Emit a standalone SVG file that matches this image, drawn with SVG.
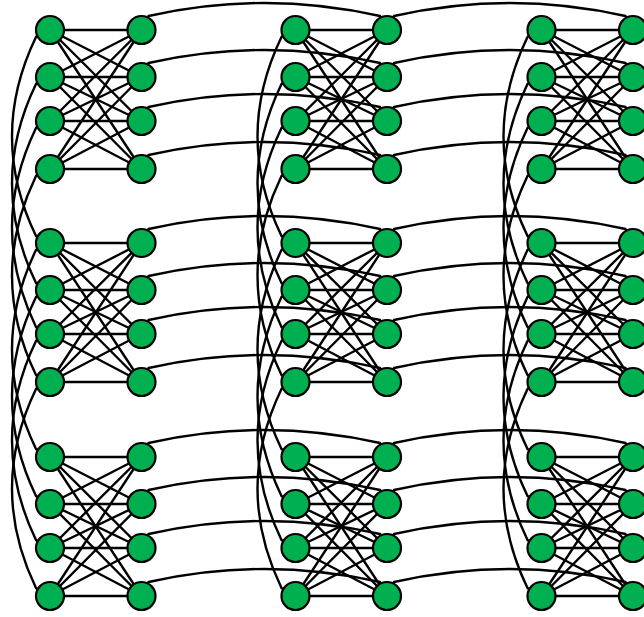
<svg xmlns="http://www.w3.org/2000/svg" xmlns:xlink="http://www.w3.org/1999/xlink" width="644" height="617" viewBox="0 0 644 617">
<style>
.e{stroke:#000;stroke-width:2.4;fill:none}
.n{fill:#00B050;stroke:#000;stroke-width:2.2}
</style>
<defs>
<g id="k44" class="e">
<path d="M50,30L141.5,30M50,30L141.5,77M50,30L141.5,121M50,30L141.5,169"/>
<path d="M50,77L141.5,30M50,77L141.5,77M50,77L141.5,121M50,77L141.5,169"/>
<path d="M50,121L141.5,30M50,121L141.5,77M50,121L141.5,121M50,121L141.5,169"/>
<path d="M50,169L141.5,30M50,169L141.5,77M50,169L141.5,121M50,169L141.5,169"/>
</g>
<path id="hc" class="e" d="M141.5,0L148.5,-14Q264.25,-40 380,-14L387,0"/>
<path id="vc" class="e" d="M50,30L36,37Q-12,136.5 36,236L50,243"/>
</defs>
<g id="connectors">
<use xlink:href="#k44"/>
<use xlink:href="#k44" transform="translate(245.5,0)"/>
<use xlink:href="#k44" transform="translate(491.5,0)"/>
<use xlink:href="#k44" transform="translate(0,213)"/>
<use xlink:href="#k44" transform="translate(245.5,213)"/>
<use xlink:href="#k44" transform="translate(491.5,213)"/>
<use xlink:href="#k44" transform="translate(0,427)"/>
<use xlink:href="#k44" transform="translate(245.5,427)"/>
<use xlink:href="#k44" transform="translate(491.5,427)"/>
<use xlink:href="#hc" transform="translate(0,30)"/><use xlink:href="#hc" transform="translate(245.5,30)"/>
<use xlink:href="#hc" transform="translate(0,77)"/><use xlink:href="#hc" transform="translate(245.5,77)"/>
<use xlink:href="#hc" transform="translate(0,121)"/><use xlink:href="#hc" transform="translate(245.5,121)"/>
<use xlink:href="#hc" transform="translate(0,169)"/><use xlink:href="#hc" transform="translate(245.5,169)"/>
<use xlink:href="#hc" transform="translate(0,243)"/><use xlink:href="#hc" transform="translate(245.5,243)"/>
<use xlink:href="#hc" transform="translate(0,290)"/><use xlink:href="#hc" transform="translate(245.5,290)"/>
<use xlink:href="#hc" transform="translate(0,334)"/><use xlink:href="#hc" transform="translate(245.5,334)"/>
<use xlink:href="#hc" transform="translate(0,382)"/><use xlink:href="#hc" transform="translate(245.5,382)"/>
<use xlink:href="#hc" transform="translate(0,457)"/><use xlink:href="#hc" transform="translate(245.5,457)"/>
<use xlink:href="#hc" transform="translate(0,504)"/><use xlink:href="#hc" transform="translate(245.5,504)"/>
<use xlink:href="#hc" transform="translate(0,548)"/><use xlink:href="#hc" transform="translate(245.5,548)"/>
<use xlink:href="#hc" transform="translate(0,596)"/><use xlink:href="#hc" transform="translate(245.5,596)"/>
<use xlink:href="#vc"/><use xlink:href="#vc" transform="translate(0,47)"/><use xlink:href="#vc" transform="translate(0,91)"/><use xlink:href="#vc" transform="translate(0,139)"/>
<use xlink:href="#vc" transform="translate(0,213)"/><use xlink:href="#vc" transform="translate(0,260)"/><use xlink:href="#vc" transform="translate(0,304)"/><use xlink:href="#vc" transform="translate(0,352)"/>
<use xlink:href="#vc" transform="translate(245.5,0)"/><use xlink:href="#vc" transform="translate(245.5,47)"/><use xlink:href="#vc" transform="translate(245.5,91)"/><use xlink:href="#vc" transform="translate(245.5,139)"/>
<use xlink:href="#vc" transform="translate(245.5,213)"/><use xlink:href="#vc" transform="translate(245.5,260)"/><use xlink:href="#vc" transform="translate(245.5,304)"/><use xlink:href="#vc" transform="translate(245.5,352)"/>
<use xlink:href="#vc" transform="translate(491.5,0)"/><use xlink:href="#vc" transform="translate(491.5,47)"/><use xlink:href="#vc" transform="translate(491.5,91)"/><use xlink:href="#vc" transform="translate(491.5,139)"/>
<use xlink:href="#vc" transform="translate(491.5,213)"/><use xlink:href="#vc" transform="translate(491.5,260)"/><use xlink:href="#vc" transform="translate(491.5,304)"/><use xlink:href="#vc" transform="translate(491.5,352)"/>
</g>
<g id="nodes">
<g id="c00L0"><circle class="n" cx="50" cy="30" r="14"/></g>
<g id="c00L1"><circle class="n" cx="50" cy="77" r="14"/></g>
<g id="c00L2"><circle class="n" cx="50" cy="121" r="14"/></g>
<g id="c00L3"><circle class="n" cx="50" cy="169" r="14"/></g>
<g id="c00R0"><circle class="n" cx="141.5" cy="30" r="14"/></g>
<g id="c00R1"><circle class="n" cx="141.5" cy="77" r="14"/></g>
<g id="c00R2"><circle class="n" cx="141.5" cy="121" r="14"/></g>
<g id="c00R3"><circle class="n" cx="141.5" cy="169" r="14"/></g>
<g id="c01L0"><circle class="n" cx="295.5" cy="30" r="14"/></g>
<g id="c01L1"><circle class="n" cx="295.5" cy="77" r="14"/></g>
<g id="c01L2"><circle class="n" cx="295.5" cy="121" r="14"/></g>
<g id="c01L3"><circle class="n" cx="295.5" cy="169" r="14"/></g>
<g id="c01R0"><circle class="n" cx="387" cy="30" r="14"/></g>
<g id="c01R1"><circle class="n" cx="387" cy="77" r="14"/></g>
<g id="c01R2"><circle class="n" cx="387" cy="121" r="14"/></g>
<g id="c01R3"><circle class="n" cx="387" cy="169" r="14"/></g>
<g id="c02L0"><circle class="n" cx="541.5" cy="30" r="14"/></g>
<g id="c02L1"><circle class="n" cx="541.5" cy="77" r="14"/></g>
<g id="c02L2"><circle class="n" cx="541.5" cy="121" r="14"/></g>
<g id="c02L3"><circle class="n" cx="541.5" cy="169" r="14"/></g>
<g id="c02R0"><circle class="n" cx="633" cy="30" r="14"/></g>
<g id="c02R1"><circle class="n" cx="633" cy="77" r="14"/></g>
<g id="c02R2"><circle class="n" cx="633" cy="121" r="14"/></g>
<g id="c02R3"><circle class="n" cx="633" cy="169" r="14"/></g>
<g id="c10L0"><circle class="n" cx="50" cy="243" r="14"/></g>
<g id="c10L1"><circle class="n" cx="50" cy="290" r="14"/></g>
<g id="c10L2"><circle class="n" cx="50" cy="334" r="14"/></g>
<g id="c10L3"><circle class="n" cx="50" cy="382" r="14"/></g>
<g id="c10R0"><circle class="n" cx="141.5" cy="243" r="14"/></g>
<g id="c10R1"><circle class="n" cx="141.5" cy="290" r="14"/></g>
<g id="c10R2"><circle class="n" cx="141.5" cy="334" r="14"/></g>
<g id="c10R3"><circle class="n" cx="141.5" cy="382" r="14"/></g>
<g id="c11L0"><circle class="n" cx="295.5" cy="243" r="14"/></g>
<g id="c11L1"><circle class="n" cx="295.5" cy="290" r="14"/></g>
<g id="c11L2"><circle class="n" cx="295.5" cy="334" r="14"/></g>
<g id="c11L3"><circle class="n" cx="295.5" cy="382" r="14"/></g>
<g id="c11R0"><circle class="n" cx="387" cy="243" r="14"/></g>
<g id="c11R1"><circle class="n" cx="387" cy="290" r="14"/></g>
<g id="c11R2"><circle class="n" cx="387" cy="334" r="14"/></g>
<g id="c11R3"><circle class="n" cx="387" cy="382" r="14"/></g>
<g id="c12L0"><circle class="n" cx="541.5" cy="243" r="14"/></g>
<g id="c12L1"><circle class="n" cx="541.5" cy="290" r="14"/></g>
<g id="c12L2"><circle class="n" cx="541.5" cy="334" r="14"/></g>
<g id="c12L3"><circle class="n" cx="541.5" cy="382" r="14"/></g>
<g id="c12R0"><circle class="n" cx="633" cy="243" r="14"/></g>
<g id="c12R1"><circle class="n" cx="633" cy="290" r="14"/></g>
<g id="c12R2"><circle class="n" cx="633" cy="334" r="14"/></g>
<g id="c12R3"><circle class="n" cx="633" cy="382" r="14"/></g>
<g id="c20L0"><circle class="n" cx="50" cy="457" r="14"/></g>
<g id="c20L1"><circle class="n" cx="50" cy="504" r="14"/></g>
<g id="c20L2"><circle class="n" cx="50" cy="548" r="14"/></g>
<g id="c20L3"><circle class="n" cx="50" cy="596" r="14"/></g>
<g id="c20R0"><circle class="n" cx="141.5" cy="457" r="14"/></g>
<g id="c20R1"><circle class="n" cx="141.5" cy="504" r="14"/></g>
<g id="c20R2"><circle class="n" cx="141.5" cy="548" r="14"/></g>
<g id="c20R3"><circle class="n" cx="141.5" cy="596" r="14"/></g>
<g id="c21L0"><circle class="n" cx="295.5" cy="457" r="14"/></g>
<g id="c21L1"><circle class="n" cx="295.5" cy="504" r="14"/></g>
<g id="c21L2"><circle class="n" cx="295.5" cy="548" r="14"/></g>
<g id="c21L3"><circle class="n" cx="295.5" cy="596" r="14"/></g>
<g id="c21R0"><circle class="n" cx="387" cy="457" r="14"/></g>
<g id="c21R1"><circle class="n" cx="387" cy="504" r="14"/></g>
<g id="c21R2"><circle class="n" cx="387" cy="548" r="14"/></g>
<g id="c21R3"><circle class="n" cx="387" cy="596" r="14"/></g>
<g id="c22L0"><circle class="n" cx="541.5" cy="457" r="14"/></g>
<g id="c22L1"><circle class="n" cx="541.5" cy="504" r="14"/></g>
<g id="c22L2"><circle class="n" cx="541.5" cy="548" r="14"/></g>
<g id="c22L3"><circle class="n" cx="541.5" cy="596" r="14"/></g>
<g id="c22R0"><circle class="n" cx="633" cy="457" r="14"/></g>
<g id="c22R1"><circle class="n" cx="633" cy="504" r="14"/></g>
<g id="c22R2"><circle class="n" cx="633" cy="548" r="14"/></g>
<g id="c22R3"><circle class="n" cx="633" cy="596" r="14"/></g>
</g>
</svg>
